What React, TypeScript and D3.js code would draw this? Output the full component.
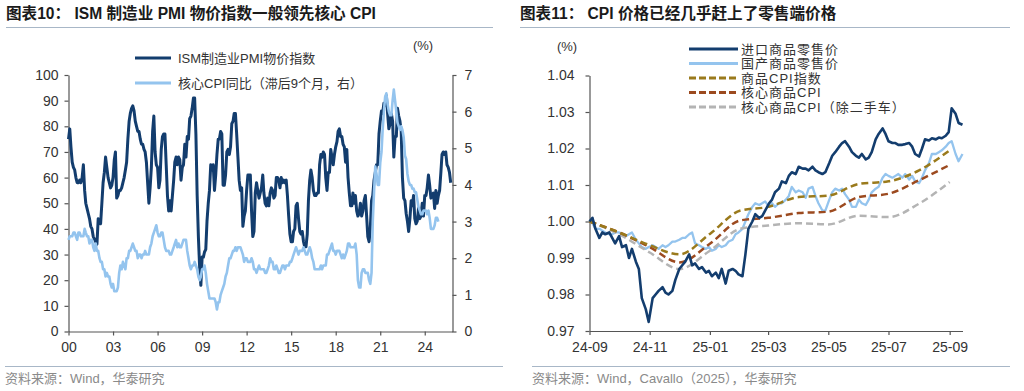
import React, { useEffect, useRef } from 'react';
import * as d3 from 'd3';

// ---------- left chart: ISM prices vs core CPI (monthly, from 2000-01) ----------
const ismPrices = [
  75, 79, 72, 66, 64, 63, 60, 58, 58, 59, 58, 60, // 2000
  65, 55, 50, 48, 46, 44, 41, 40, 37, 36, 35, 34, // 2001
  44, 43, 42, 50, 58, 62, 68, 64, 60, 58, 56, 57, // 2002
  60, 67, 70, 52, 53, 55, 55, 56, 58, 60, 63, 66, // 2003
  75, 82, 85, 87, 88, 86, 82, 80, 78, 78, 75, 73, // 2004
  73, 71, 70, 66, 58, 50, 56, 64, 78, 84, 70, 65, // 2005
  64, 56, 59, 71, 76, 77, 77, 65, 53, 47, 51, 47, // 2006
  53, 59, 66, 68, 65, 68, 67, 59, 64, 65, 73, 68, // 2007
  76, 75, 83, 84, 87, 91, 91, 77, 53, 37, 25, 18, // 2008
  29, 29, 31, 32, 43, 50, 55, 65, 63, 65, 55, 61, // 2009
  69, 75, 75, 78, 77, 57, 57, 61, 70, 71, 69, 72, // 2010
  81, 82, 85, 85, 77, 68, 59, 55, 56, 41, 45, 47, // 2011
  55, 61, 61, 61, 47, 37, 39, 54, 58, 55, 52, 54, // 2012
  56, 61, 54, 50, 49, 52, 49, 54, 56, 55, 52, 53, // 2013
  60, 60, 59, 56, 60, 58, 59, 58, 59, 53, 45, 38, // 2014
  35, 35, 39, 40, 49, 50, 44, 39, 38, 39, 35, 33, // 2015
  33, 38, 51, 59, 63, 60, 55, 53, 53, 54, 54, 65, // 2016
  69, 68, 70, 69, 60, 55, 62, 62, 71, 68, 65, 69, // 2017
  72, 74, 78, 79, 76, 76, 73, 72, 66, 71, 60, 54, // 2018
  49, 49, 54, 50, 53, 47, 45, 46, 50, 45, 47, 51, // 2019
  53, 45, 37, 35, 40, 51, 53, 59, 62, 65, 65, 77, // 2020
  82, 86, 85, 89, 88, 92, 85, 79, 81, 85, 82, 68, // 2021
  76, 76, 87, 84, 82, 78, 60, 52, 51, 46, 43, 39, // 2022
  44, 51, 49, 53, 44, 42, 43, 48, 44, 45, 50, 45, // 2023
  53, 53, 56, 61, 57, 52, 53, 54, 48, 55, 50, 53, // 2024
  55, 62, 69, 70, 69, 70, 65, 64, 62, 58, // 2025
];

// core CPI y/y, already shifted 9 months (plotted month, from 2000-01)
const coreCpiLagged = [
  2.5, 2.6, 2.6, 2.6, 2.7, 2.7, 2.6, 2.5, 2.7, 2.7, 2.6, 2.6, // 2000
  2.6, 2.8, 2.7, 2.6, 2.6, 2.4, 2.5, 2.5, 2.3, 2.2, 2.4, 2.2, // 2001
  2.2, 2.0, 1.9, 1.9, 1.7, 1.7, 1.5, 1.6, 1.5, 1.5, 1.3, 1.2, // 2002
  1.3, 1.1, 1.1, 1.1, 1.2, 1.6, 1.8, 1.7, 1.9, 1.8, 1.7, 2.0, // 2003
  2.0, 2.2, 2.2, 2.3, 2.4, 2.3, 2.2, 2.2, 2.0, 2.1, 2.1, 2.0, // 2004
  2.1, 2.1, 2.2, 2.1, 2.1, 2.1, 2.3, 2.4, 2.6, 2.7, 2.8, 2.9, // 2005
  2.7, 2.6, 2.6, 2.7, 2.7, 2.5, 2.3, 2.2, 2.2, 2.2, 2.1, 2.1, // 2006
  2.2, 2.3, 2.4, 2.5, 2.3, 2.4, 2.3, 2.3, 2.4, 2.5, 2.5, 2.5, // 2007
  2.2, 2.0, 1.8, 1.7, 1.8, 1.8, 1.9, 1.8, 1.7, 1.5, 1.4, 1.5, // 2008
  1.7, 1.7, 1.8, 1.6, 1.3, 1.1, 0.9, 0.9, 0.9, 0.9, 0.9, 0.8, // 2009
  0.6, 0.8, 0.8, 1.0, 1.1, 1.2, 1.3, 1.5, 1.6, 1.8, 2.0, 2.0, // 2010
  2.1, 2.2, 2.2, 2.3, 2.2, 2.3, 2.3, 2.3, 2.2, 2.1, 1.9, 2.0, // 2011
  2.0, 1.9, 1.9, 1.9, 2.0, 1.9, 1.7, 1.7, 1.6, 1.7, 1.8, 1.7, // 2012
  1.7, 1.7, 1.7, 1.6, 1.6, 1.7, 1.8, 2.0, 1.9, 1.9, 1.7, 1.7, // 2013
  1.8, 1.7, 1.6, 1.6, 1.7, 1.8, 1.8, 1.7, 1.8, 1.8, 1.8, 1.9, // 2014
  1.9, 2.0, 2.1, 2.2, 2.3, 2.2, 2.1, 2.2, 2.2, 2.2, 2.3, 2.2, // 2015
  2.1, 2.1, 2.2, 2.3, 2.2, 2.0, 1.9, 1.7, 1.7, 1.7, 1.7, 1.7, // 2016
  1.8, 1.7, 1.8, 1.8, 1.8, 2.1, 2.1, 2.2, 2.3, 2.4, 2.2, 2.2, // 2017
  2.1, 2.2, 2.2, 2.2, 2.1, 2.0, 2.1, 2.0, 2.1, 2.2, 2.4, 2.4, // 2018
  2.3, 2.3, 2.3, 2.3, 2.4, 2.1, 1.4, 1.2, 1.2, 1.6, 1.7, 1.7, // 2019
  1.6, 1.6, 1.6, 1.4, 1.3, 1.6, 3.0, 3.8, 4.5, 4.3, 4.0, 4.0, // 2020
  4.6, 4.9, 5.5, 6.0, 6.4, 6.5, 6.2, 6.0, 5.9, 5.9, 6.3, 6.6, // 2021
  6.3, 6.0, 5.7, 5.6, 5.5, 5.6, 5.5, 5.3, 4.8, 4.7, 4.3, 4.1, // 2022
  4.0, 4.0, 3.9, 3.9, 3.8, 3.8, 3.6, 3.4, 3.3, 3.2, 3.2, 3.3, // 2023
  3.3, 3.3, 3.2, 3.3, 3.1, 2.8, 2.8, 2.8, 2.9, 3.1, 3.1, 3.0, // 2024
];

const leftYears = [2000, 2003, 2006, 2009, 2012, 2015, 2018, 2021, 2024];

// ---------- right chart: retail prices (Cavallo) vs goods CPI ----------
const retailDates = [
  '2024-09-01', '2024-09-04', '2024-09-07', '2024-09-11', '2024-09-14', '2024-09-17', '2024-09-21', '2024-09-24', '2024-09-27',
  '2024-10-01', '2024-10-04', '2024-10-08', '2024-10-11', '2024-10-14', '2024-10-18', '2024-10-21', '2024-10-24', '2024-10-28', '2024-10-31',
  '2024-11-04', '2024-11-07', '2024-11-10', '2024-11-14', '2024-11-17', '2024-11-20', '2024-11-24', '2024-11-27',
  '2024-12-01', '2024-12-04', '2024-12-07', '2024-12-11', '2024-12-14', '2024-12-17', '2024-12-21', '2024-12-24', '2024-12-28', '2024-12-31',
  '2025-01-03', '2025-01-07', '2025-01-10', '2025-01-13', '2025-01-17', '2025-01-20', '2025-01-24', '2025-01-27', '2025-01-30',
  '2025-02-03', '2025-02-06', '2025-02-09', '2025-02-13', '2025-02-16', '2025-02-20', '2025-02-23', '2025-02-26',
  '2025-03-02', '2025-03-05', '2025-03-08', '2025-03-12', '2025-03-15', '2025-03-19', '2025-03-22', '2025-03-25', '2025-03-29',
  '2025-04-01', '2025-04-05', '2025-04-08', '2025-04-11', '2025-04-15', '2025-04-18', '2025-04-21', '2025-04-25', '2025-04-28',
  '2025-05-02', '2025-05-05', '2025-05-08', '2025-05-12', '2025-05-15', '2025-05-18', '2025-05-22', '2025-05-25', '2025-05-29',
  '2025-06-01', '2025-06-04', '2025-06-08', '2025-06-11', '2025-06-14', '2025-06-18', '2025-06-21', '2025-06-25', '2025-06-28',
  '2025-07-01', '2025-07-05', '2025-07-08', '2025-07-11', '2025-07-15', '2025-07-18', '2025-07-22', '2025-07-25', '2025-07-28',
  '2025-08-01', '2025-08-04', '2025-08-07', '2025-08-11', '2025-08-14', '2025-08-18', '2025-08-21', '2025-08-24', '2025-08-28', '2025-08-31',
  '2025-09-03', '2025-09-07', '2025-09-10', '2025-09-14',
];

const importRetail = [
  1.000, 1.001, 0.998, 0.9955, 0.997, 0.9965, 0.997, 0.9955, 0.994,
  0.996, 0.993, 0.9935, 0.990, 0.9925, 0.989, 0.987, 0.979, 0.976, 0.9725,
  0.979, 0.980, 0.981, 0.982, 0.9805, 0.980, 0.981, 0.984,
  0.987, 0.988, 0.989, 0.991, 0.988, 0.9885, 0.987, 0.9875, 0.986, 0.9865,
  0.985, 0.986, 0.9845, 0.987, 0.983, 0.9865, 0.987, 0.9865, 0.9855,
  0.985, 0.991, 0.998, 1.000, 1.002, 1.001, 1.0015, 1.003,
  1.005, 1.006, 1.008, 1.009, 1.011, 1.0105, 1.0125, 1.0135, 1.013,
  1.015, 1.0145, 1.0145, 1.014, 1.015, 1.014, 1.0135, 1.013, 1.0135,
  1.016, 1.018, 1.019, 1.0205, 1.0215, 1.022, 1.0205, 1.019, 1.018,
  1.0175, 1.0185, 1.017, 1.0175, 1.019, 1.0225, 1.024, 1.0255, 1.024,
  1.022, 1.0215, 1.0215, 1.021, 1.021, 1.0212, 1.0215, 1.0205, 1.0185,
  1.0178, 1.020, 1.0225, 1.0222, 1.0228, 1.0225, 1.023, 1.0228, 1.0235, 1.0245,
  1.031, 1.0295, 1.027, 1.0265,
];

const domesticRetail = [
  1.000, 0.9995, 0.998, 0.998, 0.9975, 0.997, 0.9965, 0.9965, 0.997,
  0.997, 0.9965, 0.996, 0.9965, 0.997, 0.995, 0.994, 0.993, 0.9925, 0.993,
  0.9935, 0.993, 0.9925, 0.9935, 0.993, 0.9935, 0.9945, 0.9945,
  0.995, 0.9955, 0.9955, 0.9965, 0.997, 0.994, 0.9935, 0.993, 0.9925, 0.993,
  0.992, 0.9925, 0.9935, 0.993, 0.9935, 0.9945, 0.995, 0.9965, 0.997,
  0.998, 1.000, 1.002, 1.004, 1.005, 1.0045, 1.005, 1.0055,
  1.004, 1.005, 1.004, 1.005, 1.005, 1.006, 1.007, 1.0095, 1.008,
  1.0085, 1.008, 1.0065, 1.009, 1.0095, 1.007, 1.005, 1.003, 1.003,
  1.006, 1.008, 1.009, 1.0085, 1.009, 1.0075, 1.006, 1.004, 1.004,
  1.006, 1.005, 1.0045, 1.006, 1.008, 1.009, 1.0095, 1.012, 1.013,
  1.0125, 1.012, 1.0125, 1.013, 1.012, 1.013, 1.0115, 1.0125, 1.011,
  1.0105, 1.012, 1.014, 1.016, 1.0185, 1.0185, 1.019, 1.0195, 1.0205, 1.0215,
  1.022, 1.0185, 1.0165, 1.0185,
];

// monthly CPI indices, 2024-09 = 1
const cpiMonths = [
  '2024-09-01', '2024-10-01', '2024-11-01', '2024-12-01', '2025-01-01', '2025-02-01', '2025-03-01',
  '2025-04-01', '2025-05-01', '2025-06-01', '2025-07-01', '2025-08-01', '2025-09-01',
];
const goodsCpi = [1.000, 0.997, 0.9935, 0.991, 0.9966, 1.003, 1.004, 1.0067, 1.0071, 1.0103, 1.011, 1.014, 1.0195];
const coreGoodsCpi = [1.000, 0.997, 0.993, 0.9888, 0.9939, 1.0003, 1.001, 1.0023, 1.0027, 1.0067, 1.0076, 1.0113, 1.0155];
const coreGoodsExUsedCars = [1.000, 0.9965, 0.9915, 0.987, 0.992, 0.998, 0.9989, 0.9995, 0.9992, 1.0016, 1.0012, 1.0049, 1.0108];

const rightTicks = ['2024-09-01', '2024-11-01', '2025-01-01', '2025-03-01', '2025-05-01', '2025-07-01', '2025-09-01'];

const NAVY = '#133d6e';
const LIGHT = '#94c4ee';
const OLIVE = '#9a7a1c';
const BROWN = '#9c4a1f';
const GREY = '#b4b4b4';
const CJK = '"Liberation Sans", Arial, "Noto Sans CJK SC", sans-serif';
const NARROW = '"Liberation Sans Narrow", "Arial Narrow", "Liberation Sans", sans-serif';

const App: React.FC = () => {
  const svgRef = useRef<SVGSVGElement>(null);

  useEffect(() => {
    document.body.style.margin = '0';
    if (!svgRef.current) return;
    const svg = d3.select(svgRef.current);
    svg.selectAll('*').remove();

    const parse = d3.timeParse('%Y-%m-%d');

    // ---------- headers & footers ----------
    const header = (x: number, x2: number, txt: string) => {
      svg.append('text')
        .attr('x', x).attr('y', 19)
        .attr('font-family', CJK).attr('font-size', 15.6).attr('font-weight', 'bold')
        .attr('fill', '#1a1a1a')
        .text(txt);
      svg.append('line')
        .attr('x1', x).attr('x2', x2).attr('y1', 27.5).attr('y2', 27.5)
        .attr('stroke', '#a8b7c7').attr('stroke-width', 1.2);
    };
    header(6, 493, '图表10：  ISM 制造业 PMI 物价指数一般领先核心 CPI');
    header(520, 1010, '图表11：  CPI 价格已经几乎赶上了零售端价格');

    const footer = (x: number, x2: number, txt: string) => {
      svg.append('line')
        .attr('x1', x).attr('x2', x2).attr('y1', 366.5).attr('y2', 366.5)
        .attr('stroke', '#a8b7c7').attr('stroke-width', 1.2);
      svg.append('text')
        .attr('x', x).attr('y', 383)
        .attr('font-family', CJK).attr('font-size', 13)
        .attr('fill', '#8a8a8a')
        .text(txt);
    };
    footer(5, 503, '资料来源：Wind，华泰研究');
    footer(532, 1010, '资料来源：Wind，Cavallo（2025），华泰研究');

    const styleAxis = (g: d3.Selection<SVGGElement, unknown, null, undefined>, font = CJK) => {
      g.select('.domain').attr('stroke', '#555').attr('stroke-width', 1.2);
      g.selectAll('.tick line').attr('stroke', '#555').attr('stroke-width', 1.2);
      g.selectAll('.tick text').attr('fill', '#333').attr('font-size', 14).attr('font-family', font);
    };

    // ---------- left chart ----------
    const lx = d3.scaleTime()
      .domain([new Date(2000, 0, 1), new Date(2025, 10, 14)])
      .range([68.5, 452.5]);
    const ly = d3.scaleLinear().domain([0, 100]).range([331.5, 75]);
    const ry = d3.scaleLinear().domain([0, 7]).range([331.5, 75]);

    const gLA = svg.append('g').attr('transform', 'translate(68.5,0)')
      .call(d3.axisLeft(ly).tickValues(d3.range(0, 101, 10)).tickSize(4).tickSizeOuter(0).tickPadding(6));
    styleAxis(gLA);
    const gRA = svg.append('g').attr('transform', 'translate(452.5,0)')
      .call(d3.axisRight(ry).tickValues(d3.range(0, 8, 1)).tickFormat(d3.format('d'))
        .tickSize(4).tickSizeOuter(0).tickPadding(8));
    styleAxis(gRA);
    const gLB = svg.append('g').attr('transform', 'translate(0,331.5)')
      .call(d3.axisBottom(lx)
        .tickValues(leftYears.map(y => new Date(y, 0, 1)))
        .tickFormat(d => d3.timeFormat('%y')(d as Date))
        .tickSize(4).tickSizeOuter(0).tickPadding(7));
    styleAxis(gLB, NARROW);

    const ismLine = d3.line<number>()
      .x((_, i) => lx(new Date(2000, i, 1)))
      .y(d => ly(d));
    const cpiLine = d3.line<number>()
      .x((_, i) => lx(new Date(2000, i, 1)))
      .y(d => ry(d));

    svg.append('path').datum(ismPrices)
      .attr('fill', 'none').attr('stroke', NAVY).attr('stroke-width', 3)
      .attr('stroke-linejoin', 'round').attr('d', ismLine);
    svg.append('path').datum(coreCpiLagged)
      .attr('fill', 'none').attr('stroke', LIGHT).attr('stroke-width', 2.6)
      .attr('stroke-linejoin', 'round').attr('d', cpiLine);

    svg.append('text').attr('x', 423).attr('y', 50).attr('text-anchor', 'middle')
      .attr('font-family', CJK).attr('font-size', 13).attr('fill', '#333').text('(%)');

    const leftLegend = [
      { label: 'ISM制造业PMI物价指数', color: NAVY, y: 58 },
      { label: '核心CPI同比（滞后9个月，右）', color: LIGHT, y: 83 },
    ];
    leftLegend.forEach(item => {
      svg.append('line').attr('x1', 135).attr('x2', 171).attr('y1', item.y).attr('y2', item.y)
        .attr('stroke', item.color).attr('stroke-width', 3);
      svg.append('text').attr('x', 178).attr('y', item.y + 4.5)
        .attr('font-family', CJK).attr('font-size', 13).attr('fill', '#333')
        .text(item.label);
    });

    // ---------- right chart ----------
    const dx = d3.scaleTime()
      .domain([parse('2024-09-01')!, parse('2025-09-14')!])
      .range([589.5, 962.5]);
    const dy = d3.scaleLinear().domain([0.97, 1.04]).range([331, 75.5]);

    const gDA = svg.append('g').attr('transform', 'translate(589.5,0)')
      .call(d3.axisLeft(dy).tickValues(d3.range(0, 8).map(i => 0.97 + i * 0.01))
        .tickFormat(d3.format('.2f')).tickSize(4).tickSizeOuter(0).tickPadding(11));
    styleAxis(gDA);
    const gDB = svg.append('g').attr('transform', 'translate(0,331)')
      .call(d3.axisBottom(dx)
        .tickValues(rightTicks.map(s => parse(s)!))
        .tickFormat(d => d3.timeFormat('%y-%m')(d as Date))
        .tickSize(4).tickSizeOuter(0).tickPadding(7));
    styleAxis(gDB, NARROW);

    const dailyLine = d3.line<number>()
      .x((_, i) => dx(parse(retailDates[i])!))
      .y(d => dy(d));
    const monthlyLine = d3.line<number>()
      .x((_, i) => dx(parse(cpiMonths[i])!))
      .y(d => dy(d))
      .curve(d3.curveMonotoneX);

    svg.append('path').datum(domesticRetail)
      .attr('fill', 'none').attr('stroke', LIGHT).attr('stroke-width', 2.3)
      .attr('stroke-linejoin', 'round').attr('d', dailyLine);

    const dashed = [
      { data: coreGoodsExUsedCars, color: GREY },
      { data: coreGoodsCpi, color: BROWN },
      { data: goodsCpi, color: OLIVE },
    ];
    dashed.forEach(s => {
      svg.append('path').datum(s.data)
        .attr('fill', 'none').attr('stroke', s.color).attr('stroke-width', 2.5)
        .attr('stroke-dasharray', '7,4').attr('d', monthlyLine);
    });

    svg.append('path').datum(importRetail)
      .attr('fill', 'none').attr('stroke', NAVY).attr('stroke-width', 2.6)
      .attr('stroke-linejoin', 'round').attr('d', dailyLine);

    svg.append('text').attr('x', 567).attr('y', 51).attr('text-anchor', 'middle')
      .attr('font-family', CJK).attr('font-size', 13).attr('fill', '#333').text('(%)');

    const rightLegend = [
      { label: '进口商品零售价', color: NAVY, dash: null, y: 49 },
      { label: '国产商品零售价', color: LIGHT, dash: null, y: 63.5 },
      { label: '商品CPI指数', color: OLIVE, dash: '7,3', y: 78 },
      { label: '核心商品CPI', color: BROWN, dash: '7,3', y: 92.5 },
      { label: '核心商品CPI（除二手车）', color: GREY, dash: '7,3', y: 107 },
    ];
    rightLegend.forEach(item => {
      svg.append('line').attr('x1', 689).attr('x2', 738).attr('y1', item.y).attr('y2', item.y)
        .attr('stroke', item.color).attr('stroke-width', 3)
        .attr('stroke-dasharray', item.dash ?? null);
      svg.append('text').attr('x', 741).attr('y', item.y + 4.5)
        .attr('font-family', CJK).attr('font-size', 13).attr('letter-spacing', 1).attr('fill', '#333')
        .text(item.label);
    });
  }, []);

  return (
    <div style={{ width: 1024, height: 391, background: '#fff' }}>
      <svg ref={svgRef} width={1024} height={391} style={{ display: 'block' }} />
    </div>
  );
};

export default App;
